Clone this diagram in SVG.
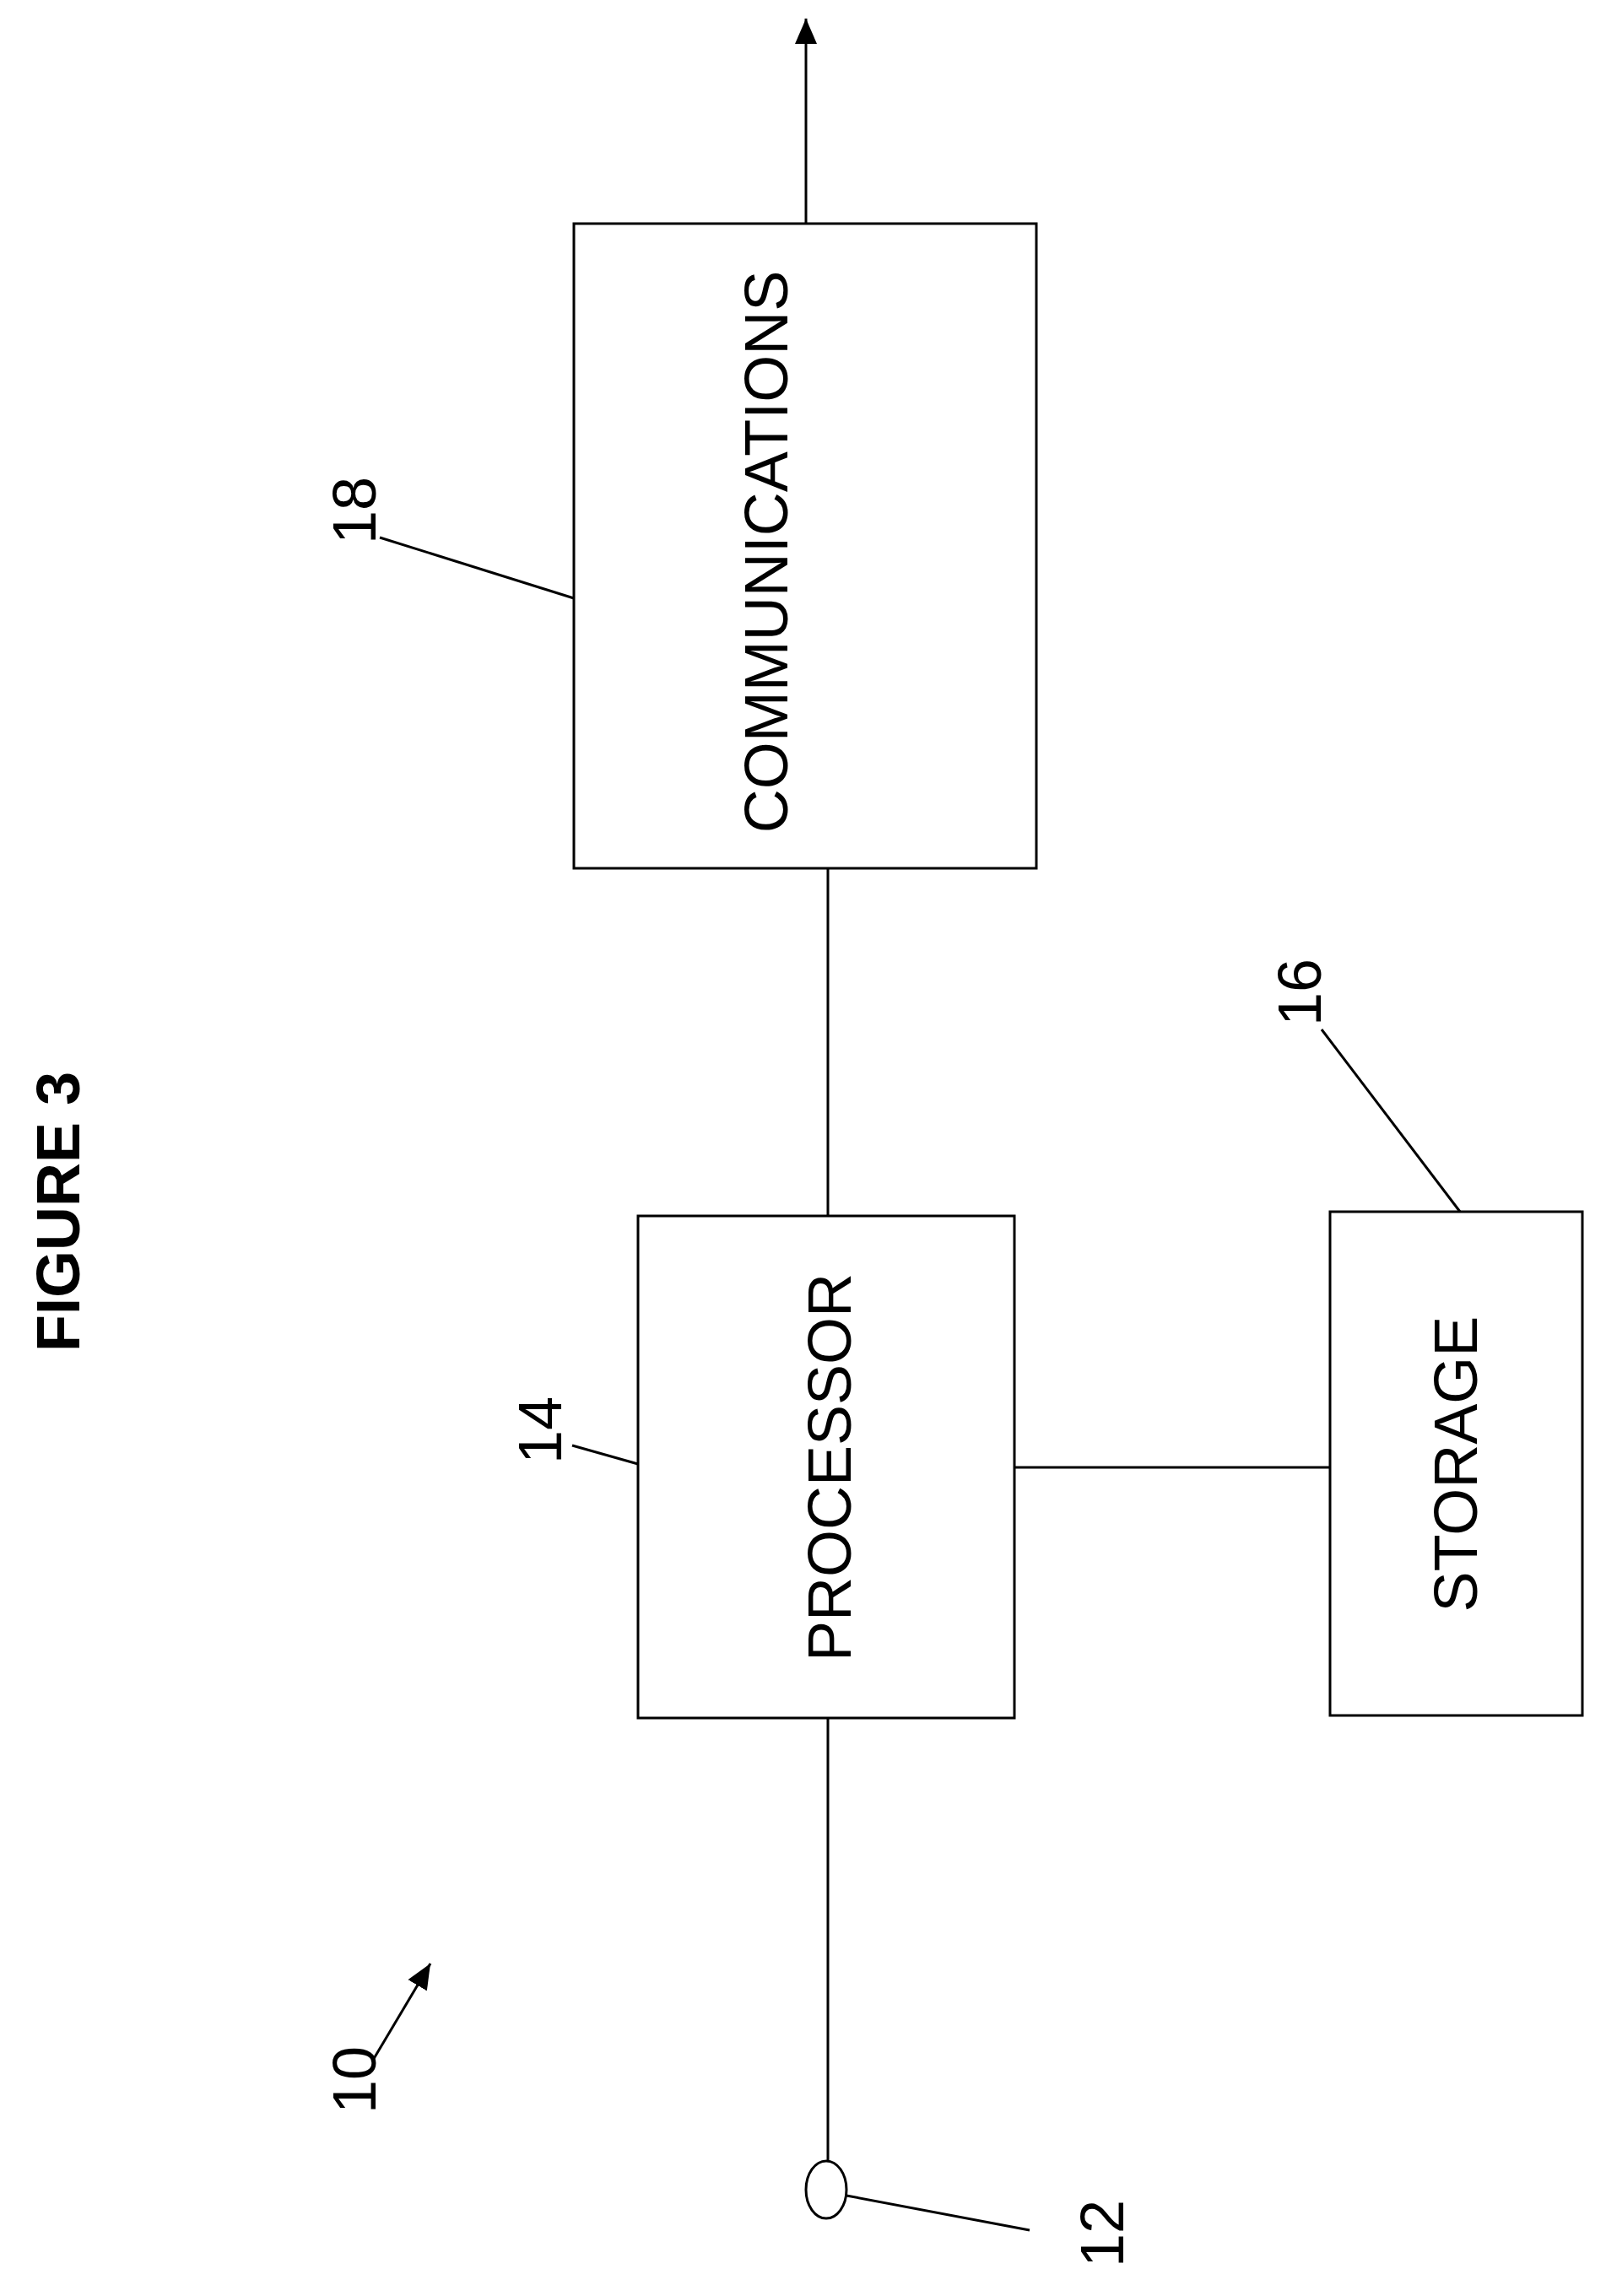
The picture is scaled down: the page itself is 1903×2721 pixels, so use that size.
<svg xmlns="http://www.w3.org/2000/svg" width="1903" height="2721" viewBox="0 0 1903 2721">
<style>
.b{fill:none;stroke:#000;stroke-width:3}
.l{stroke:#000;stroke-width:3;fill:none}
.t{font-family:"Liberation Sans",Arial,sans-serif;font-size:72px;fill:#000;text-anchor:middle;dominant-baseline:central}
</style>
<defs><marker id="a" markerWidth="10" markerHeight="10" refX="9" refY="5" orient="auto" markerUnits="userSpaceOnUse" viewBox="0 0 10 10"><path d="M0,0 L10,5 L0,10 z"/></marker>
<marker id="a2" markerWidth="30" markerHeight="26" refX="30" refY="13" orient="auto" markerUnits="userSpaceOnUse"><path d="M0,0 L30,13 L0,26 z"/></marker></defs>
<rect width="1903" height="2721" fill="#fff"/>
<g id="connectors">
<line class="l" x1="955" y1="265" x2="955" y2="22" marker-end="url(#a2)"/>
<line class="l" x1="981" y1="1029" x2="981" y2="1441"/>
<line class="l" x1="1202" y1="1739" x2="1576" y2="1739"/>
<line class="l" x1="981" y1="2036" x2="981" y2="2561"/>
<line class="l" x1="1003" y1="2602" x2="1220" y2="2643"/>
<line class="l" x1="441" y1="2443" x2="510" y2="2327" marker-end="url(#a2)"/>
<line class="l" x1="678" y1="1713" x2="756" y2="1735"/>
<line class="l" x1="450" y1="637" x2="680" y2="709"/>
<line class="l" x1="1566" y1="1220" x2="1730" y2="1436"/>
</g>
<g id="figure"><text class="t" style="font-weight:bold" transform="translate(69,1436) rotate(-90)">FIGURE 3</text></g>
<g id="n18"><rect class="b" x="680" y="265" width="548" height="764"/>
<text class="t" transform="translate(908,654) rotate(-90)">COMMUNICATIONS</text>
<text class="t" transform="translate(420,605) rotate(-90)">18</text></g>
<g id="n14"><rect class="b" x="756" y="1441" width="446" height="595"/>
<text class="t" transform="translate(983,1739) rotate(-90)">PROCESSOR</text>
<text class="t" transform="translate(640,1695) rotate(-90)">14</text></g>
<g id="n16"><rect class="b" x="1576" y="1436" width="299" height="597"/>
<text class="t" transform="translate(1725,1735) rotate(-90)">STORAGE</text>
<text class="t" transform="translate(1540,1176) rotate(-90)">16</text></g>
<g id="n12"><ellipse class="b" cx="979" cy="2595" rx="24" ry="34"/>
<text class="t" transform="translate(1306,2647) rotate(-90)">12</text></g>
<g id="n10"><text class="t" transform="translate(420,2465) rotate(-90)">10</text></g>
</svg>
